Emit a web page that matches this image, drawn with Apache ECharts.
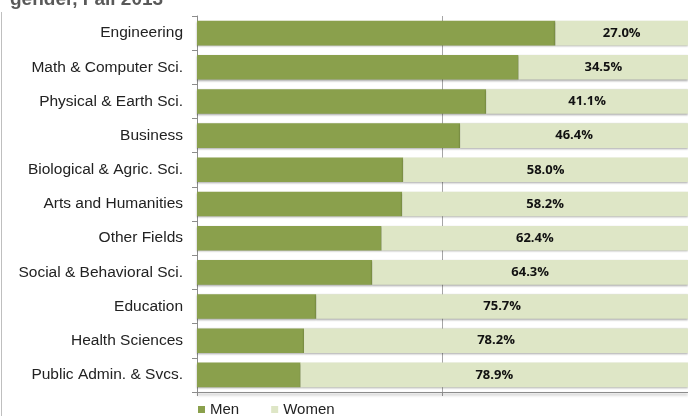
<!DOCTYPE html>
<html><head><meta charset="utf-8">
<script src="https://cdn.jsdelivr.net/npm/echarts@6/dist/echarts.min.js"></script>
<style>html,body{margin:0;padding:0;background:#fff}#c{width:688px;height:416px}</style>
</head><body><div id="c"></div>
<script>
const categories = ["Engineering","Math & Computer Sci.","Physical & Earth Sci.","Business","Biological & Agric. Sci.","Arts and Humanities","Other Fields","Social & Behavioral Sci.","Education","Health Sciences","Public Admin. & Svcs."];
const womenPct = [27.0,34.5,41.1,46.4,58.0,58.2,62.4,64.3,75.7,78.2,78.9];
const menPct = [73.0,65.5,58.9,53.6,42.0,41.8,37.6,35.7,24.3,21.8,21.1];
const titleText = "gender, Fall 2013";

const chart = echarts.init(document.getElementById('c'));
const shadow = {shadowBlur:2, shadowColor:'rgba(0,0,0,0.35)', shadowOffsetY:1, shadowOffsetX:0};
chart.setOption({
  animation:false,
  title:{text:titleText, left:5, top:-15, textStyle:{fontFamily:'Liberation Sans', fontSize:19, fontWeight:'bold', color:'#595959'}},
  graphic:[{type:'line', shape:{x1:1.5,y1:12,x2:1.5,y2:416}, style:{stroke:'#BFBFBF', lineWidth:1}}],
  legend:{data:['Men','Women'], bottom:-6, left:193, itemWidth:7, itemHeight:7, itemGap:32, icon:'rect',
    textStyle:{fontFamily:'Liberation Sans', fontSize:15, color:'#222'}},
  grid:{left:197, right:0, top:16, bottom:24, containLabel:false},
  xAxis:{type:'value', min:0, max:100, interval:50,
    axisLabel:{show:false},
    axisLine:{show:true, lineStyle:{color:'#8C8C8C', width:1, shadowBlur:3, shadowColor:'rgba(0,0,0,0.4)', shadowOffsetY:2}},
    axisTick:{show:true, length:4, inside:false, lineStyle:{color:'#8C8C8C'}},
    splitLine:{show:true, showMinLine:false, showMaxLine:false, lineStyle:{color:'#A6A6A6', width:1}}},
  yAxis:{type:'category', data:categories, inverse:true,
    axisLine:{show:true, lineStyle:{color:'#8C8C8C'}},
    axisTick:{show:true, length:5, alignWithLabel:false, lineStyle:{color:'#8C8C8C'}},
    axisLabel:{fontFamily:'Liberation Sans', fontSize:15.5, color:'#222', margin:14}},
  series:[
    {name:'Men', type:'bar', stack:'t', data:menPct, barCategoryGap:'28%',
      itemStyle:Object.assign({color:'#8AA04C'}, shadow)},
    {name:'Women', type:'bar', stack:'t', data:womenPct, barCategoryGap:'28%',
      itemStyle:Object.assign({color:'#DEE6C6'}, shadow),
      label:{show:true, position:'inside', formatter:p=>p.value.toFixed(1)+'%', fontFamily:'Open Sans', fontWeight:'bold', fontSize:13, color:'#111'}}
  ]
});
</script></body></html>
